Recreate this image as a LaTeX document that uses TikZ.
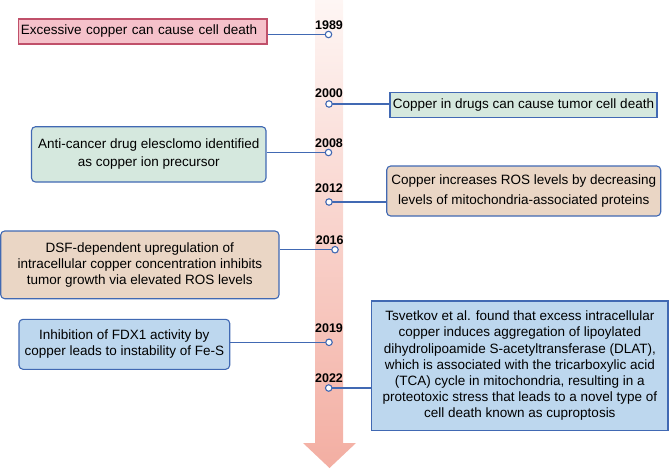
\documentclass[tikz,border=0pt]{standalone}
\usepackage{fontspec}
\setmainfont{Liberation Sans}
\definecolor{lineblue}{HTML}{4169B3}
\definecolor{pinkfill}{HTML}{F5C1CA}
\definecolor{pinkdraw}{HTML}{C0506A}
\definecolor{greenfill}{HTML}{D5E8DE}
\definecolor{tanfill}{HTML}{EAD6C5}
\definecolor{bluefill}{HTML}{BDD7EE}
\definecolor{arrowtop}{HTML}{FEF6F4}
\definecolor{arrowbot}{HTML}{F3AEA2}
\begin{document}
\begin{tikzpicture}[x=1pt,y=-1pt,
  box/.style={draw=lineblue, line width=1.1pt, inner sep=0pt, align=center,
    font=\fontsize{13.5}{16.2}\selectfont},
  rbox/.style={box, rounded corners=4pt},
  yr/.style={font=\fontsize{12.5}{14}\selectfont\bfseries, inner sep=0pt},
  dot/.style={circle, draw=lineblue, fill=white, line width=1.1pt, minimum size=6.5pt, inner sep=0pt},
  conn/.style={draw=lineblue, line width=1.1pt}]
\useasboundingbox (0,0) rectangle (669,469);
% timeline arrow
\path[top color=arrowtop, bottom color=arrowbot, shading angle=0]
  (315,0) -- (343,0) -- (343,443) -- (356,443) -- (329.5,468) -- (303,443) -- (315,443) -- cycle;
% years
\node[yr] (y1989) at (329,24.7) {1989};
\node[yr] (y2000) at (329,93.3) {2000};
\node[yr] (y2008) at (329,143.3) {2008};
\node[yr] (y2012) at (329,188) {2012};
\node[yr] (y2016) at (329.7,240) {2016};
\node[yr] (y2019) at (329,328.3) {2019};
\node[yr] (y2022) at (329,378.3) {2022};
% boxes
\node[box, draw=pinkdraw, fill=pinkfill, text width=244pt, align=left, inner xsep=2.25pt,
  minimum height=25pt] (b1) at (142.75,31.5) {Excessive copper can cause cell death};
\node[box, fill=greenfill, minimum width=267pt, minimum height=25pt] (b2) at (523.5,104.8)
  {Copper in drugs can cause tumor cell death};
\node[rbox, fill=greenfill, minimum width=234.5pt, minimum height=55.3pt,
  font=\fontsize{13.5}{17.7}\selectfont] (b3) at (148.75,154.35)
  {Anti-cancer drug elesclomo identified\\as copper ion precursor};
\node[rbox, fill=tanfill, minimum width=274pt, minimum height=50pt,
  font=\fontsize{13.5}{20}\selectfont] (b4) at (523.7,191)
  {Copper increases ROS levels by decreasing\\levels of mitochondria-associated proteins};
\node[rbox, fill=tanfill, minimum width=278.3pt, minimum height=67.7pt] (b5) at (139.85,264.85)
  {DSF-dependent upregulation of\\intracellular copper concentration inhibits\\tumor growth via elevated ROS levels};
\node[rbox, fill=bluefill, minimum width=210.7pt, minimum height=50pt] (b6) at (124.35,344.3)
  {Inhibition of FDX1 activity by\\copper leads to instability of Fe-S};
\node[box, fill=bluefill, minimum width=296.3pt, minimum height=129.7pt] (b7) at (519.85,365.85)
  {Tsvetkov et al. found that excess intracellular\\copper induces aggregation of lipoylated\\dihydrolipoamide S-acetyltransferase (DLAT),\\which is associated with the tricarboxylic acid\\(TCA) cycle in mitochondria, resulting in a\\proteotoxic stress that leads to a novel type of\\cell death known as cuproptosis};
% dots
\coordinate (p1989) at (328.5,34.5);
\coordinate (p2000) at (329,104);
\coordinate (p2008) at (328.5,152.5);
\coordinate (p2012) at (329,202);
\coordinate (p2016) at (335,249.7);
\coordinate (p2019) at (329,342.3);
\coordinate (p2022) at (328.7,388);
% connectors
\draw[conn] (p1989) -- (p1989 -| b1.east);
\draw[conn] (p2000) -- (p2000 -| b2.west);
\draw[conn] (p2008) -- (p2008 -| b3.east);
\draw[conn] (p2012) -- (p2012 -| b4.west);
\draw[conn] (p2016) -- (p2016 -| b5.east);
\draw[conn] (p2019) -- (p2019 -| b6.east);
\draw[conn] (p2022) -- (p2022 -| b7.west);
\node[dot] (d1989) at (p1989) {};
\node[dot] (d2000) at (p2000) {};
\node[dot] (d2008) at (p2008) {};
\node[dot] (d2012) at (p2012) {};
\node[dot] (d2016) at (p2016) {};
\node[dot] (d2019) at (p2019) {};
\node[dot] (d2022) at (p2022) {};
\end{tikzpicture}
\end{document}
